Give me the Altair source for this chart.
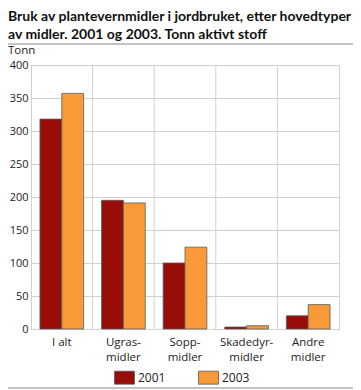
import altair as alt
import pandas as pd

categories = ["I alt", "Ugras-\nmidler", "Sopp-\nmidler", "Skadedyr-\nmidler", "Andre\nmidler"]
years = ["2001", "2003"]
v2001 = [318, 195, 100, 3, 20]
v2003 = [357, 191, 124, 5, 37]
title_lines = ["Bruk av plantevernmidler i jordbruket, etter hovedtyper",
               "av midler. 2001 og 2003. Tonn aktivt stoff"]
y_unit = "Tonn"

rows = []
for c, a, b in zip(categories, v2001, v2003):
    rows.append({"cat": c, "year": "2001", "value": a})
    rows.append({"cat": c, "year": "2003", "value": b})
df = pd.DataFrame(rows)

W, H = 308, 264
PL = 23
FONT = "Open Sans"

xenc = alt.X("cat:N", sort=categories, title=None,
             scale=alt.Scale(paddingInner=0, paddingOuter=0),
             axis=alt.Axis(labelExpr="split(datum.label, '\\n')", labelAngle=0,
                           labelAlign="center", labelBaseline="top",
                           domain=False, ticks=False, grid=False, labelPadding=7,
                           labelFontSize=11.5, labelLineHeight=15, labelColor="#222",
                           labelFont=FONT))

bars = alt.Chart(df).mark_bar(stroke="#5a5a5a", strokeWidth=0.8).encode(
    x=xenc,
    xOffset=alt.XOffset("year:N", sort=years,
                        scale=alt.Scale(paddingInner=0, paddingOuter=0.41)),
    y=alt.Y("value:Q", title=None,
            scale=alt.Scale(domain=[0, 400]),
            axis=alt.Axis(values=[0, 50, 100, 150, 200, 250, 300, 350, 400],
                          domain=False, ticks=False, labelPadding=3,
                          labelFontSize=11, labelColor="#222", labelFont=FONT,
                          gridColor="#d0d0d0")),
    color=alt.Color("year:N", sort=years,
                    scale=alt.Scale(domain=years, range=["#990d09", "#f79a37"]),
                    legend=alt.Legend(title=None, orient="none", direction="horizontal",
                                      legendX=83, legendY=302,
                                      symbolType="M-1,-0.65L1,-0.65L1,0.65L-1,0.65Z",
                                      symbolSize=400, symbolStrokeColor="#5a5a5a",
                                      symbolStrokeWidth=0.8, symbolFillColor=None,
                                      labelFontSize=12, labelFont=FONT, labelColor="#222",
                                      labelOffset=3, columnPadding=30)),
)

sep_df = pd.DataFrame({"cat": categories[1:]})
seps = alt.Chart(sep_df).mark_rule(color="#d0d0d0", strokeWidth=1,
                                   xOffset=-W / len(categories) / 2).encode(
    x=alt.X("cat:N", sort=categories),
    y=alt.value(0), y2=alt.value(H),
)

lines_df = pd.DataFrame({"ypos": [-21, 323]})
hlines = alt.Chart(lines_df).mark_rule(color="#888888", strokeWidth=1).encode(
    x=alt.value(-PL), x2=alt.value(W + 14),
    y=alt.Y("ypos:Q", scale=None),
)

unit_df = pd.DataFrame({"t": [y_unit]})
unit = alt.Chart(unit_df).mark_text(align="left", baseline="alphabetic",
                                    fontSize=11.5, font=FONT, color="#222").encode(
    x=alt.value(-PL), y=alt.value(-11), text="t:N",
)

chart = alt.layer(seps, bars, hlines, unit).properties(
    width=W, height=H,
    title=alt.TitleParams(text=title_lines, anchor="start", frame="group",
                          dx=-PL, fontSize=14, fontWeight="bold", font="Lato",
                          color="#111", lineHeight=17.5, offset=2),
    autosize=alt.AutoSizeParams(type="none"),
    padding={"left": PL, "top": 57, "right": 14, "bottom": 60},
).configure_view(stroke="#d0d0d0").configure_axis(labelFont=FONT)

chart.save("out.html", embed_options={"renderer": "svg", "actions": False})
